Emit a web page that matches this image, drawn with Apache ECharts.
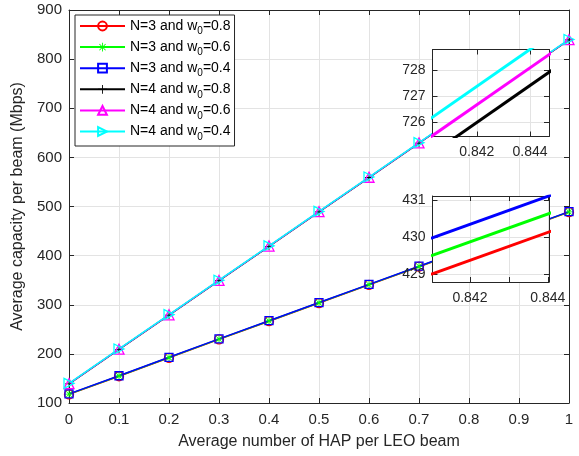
<!DOCTYPE html>
<html>
<head>
<meta charset="utf-8">
<script src="https://cdn.jsdelivr.net/npm/echarts@6/dist/echarts.min.js"></script>
<style>
  html, body { margin: 0; padding: 0; background: #fff; }
  #chart { width: 579px; height: 456px; }
</style>
</head>
<body>
<div id="chart"></div>
<script>
// main plot data
const xVals = [0, 0.1, 0.2, 0.3, 0.4, 0.5, 0.6, 0.7, 0.8, 0.9, 1];
const capN3w08 = [117.5, 154.5, 192, 229.5, 266.5, 303.5, 340.5, 377.5, 414.5, 451.5, 488.5];
const capN3w06 = [118, 155, 192.5, 230, 267, 304, 341, 378, 415, 452, 489];
const capN3w04 = [118.5, 155.5, 193, 230.5, 267.5, 304.5, 341.5, 378.5, 415.5, 452.5, 489.5];
const capN4w08 = [139, 209, 279, 349, 419, 489, 559, 629, 699, 769, 839];
const capN4w06 = [139.5, 209.5, 279.5, 349.5, 419.5, 489.5, 559.5, 629.5, 699.5, 769.5, 839.5];
const capN4w04 = [140, 210, 280, 350, 420, 490, 560, 630, 700, 770, 840];
const yTicks = [100, 200, 300, 400, 500, 600, 700, 800, 900];

// zoomed insets (upper: N=4, lower: N=3)
const upX = [0.840, 0.845];
const upN4w08 = [724.55, 728.12];
const upN4w06 = [725.23, 728.80];
const upN4w04 = [725.94, 729.51];
const upXTicks = [0.842, 0.844];
const upYTicks = [726, 727, 728];

const lowX = [0.841, 0.8445];
const lowN3w08 = [428.99, 430.32];
const lowN3w06 = [429.49, 430.82];
const lowN3w04 = [429.97, 431.30];
const lowXTicks = [0.842, 0.843, 0.844];
const lowXLabels = [0.842, 0.844];
const lowYTicks = [429, 430, 431];

const FONT = '"Liberation Sans", Arial, Helvetica, sans-serif';
const AX = '#262626';
const GRID = '#e3e3e3';

const asterisk = 'path://M-1,-10h2v20h-2z M-10,-1h20v2h-20z M-7.8,-6.4L-6.4,-7.8L7.8,6.4L6.4,7.8Z M6.4,-7.8L7.8,-6.4L-6.4,7.8L-7.8,6.4Z';
const plus = 'path://M-1,-10h2v20h-2z M-10,-1h20v2h-20z';

function pairs(xs, ys) {
  return xs.map((x, i) => [x, ys[i]]);
}

function mainSeries(name, color, ys, symbol, size, hollow, rotate) {
  return {
    name: name,
    type: 'line',
    xAxisIndex: 0,
    yAxisIndex: 0,
    data: pairs(xVals, ys),
    symbol: symbol,
    symbolSize: size,
    symbolRotate: rotate || 0,
    lineStyle: { color: color, width: 1.5 },
    itemStyle: hollow
      ? { color: 'rgba(0,0,0,0)', borderColor: color, borderWidth: 1.3 }
      : { color: color, borderWidth: 0 },
    z: 2,
    animation: false
  };
}

function insetSeries(name, color, xs, ys, idx) {
  return {
    name: name,
    type: 'line',
    xAxisIndex: idx,
    yAxisIndex: idx,
    data: pairs(xs, ys),
    symbol: 'none',
    lineStyle: { color: color, width: 3 },
    clip: true,
    z: 12,
    animation: false
  };
}

// bottom + top x axes, left + right y axes for one grid
function frame(gi, xmin, xmax, ymin, ymax, xTicks, xLabels, yTicks, fs, z, xInterval, yInterval) {
  const tick = { show: true, inside: true, length: 5, lineStyle: { color: AX } };
  const line = { show: true, onZero: false, lineStyle: { color: AX, width: 1 } };
  const xs = [], ys = [];
  ['bottom', 'top'].forEach((pos, k) => {
    const a = {
      type: 'value', gridIndex: gi, position: pos, min: xmin, max: xmax, z: z,
      axisLine: line,
      axisTick: Object.assign({}, tick),
      axisLabel: { show: k === 0, fontSize: fs, color: AX, fontFamily: FONT, margin: gi === 0 ? 9 : 9 },
      splitLine: { show: k === 0, lineStyle: { color: GRID, width: 1 } }
    };
    if (xInterval) { a.interval = xInterval; }
    else { a.axisTick.customValues = xTicks; a.axisLabel.customValues = xLabels; }
    a.axisLabel.formatter = v => gi === 0 ? String(+(+v).toFixed(1)) : (+v).toFixed(3);
    xs.push(a);
  });
  ['left', 'right'].forEach((pos, k) => {
    const a = {
      type: 'value', gridIndex: gi, position: pos, min: ymin, max: ymax, z: z,
      axisLine: line,
      axisTick: Object.assign({}, tick),
      axisLabel: { show: k === 0, fontSize: fs, color: AX, fontFamily: FONT, margin: gi === 0 ? 7 : 7 },
      splitLine: { show: k === 0, lineStyle: { color: GRID, width: 1 } }
    };
    if (yInterval) { a.interval = yInterval; }
    else { a.axisTick.customValues = yTicks; a.axisLabel.customValues = yTicks; }
    a.axisLabel.formatter = v => String(Math.round(v));
    ys.push(a);
  });
  return { xs: xs, ys: ys };
}

const fMain = frame(0, 0, 1, yTicks[0], yTicks[yTicks.length - 1], null, null, null, 15, 0, 0.1, 100);
fMain.xs[0].name = 'Average number of HAP per LEO beam';
fMain.xs[0].nameLocation = 'middle';
fMain.xs[0].nameGap = 31;
fMain.xs[0].nameTextStyle = { fontSize: 16, color: AX, fontFamily: FONT };
fMain.ys[0].name = 'Average capacity per beam (Mbps)';
fMain.ys[0].nameLocation = 'middle';
fMain.ys[0].nameGap = 42;
fMain.ys[0].nameTextStyle = { fontSize: 16, color: AX, fontFamily: FONT };

const fUp = frame(1, 0.84034, 0.84471, 725.44, 728.79, upXTicks, upXTicks, upYTicks, 14, 11);
const fLow = frame(2, 0.84104, 0.84403, 428.78, 431.12, lowXTicks, lowXLabels, lowYTicks, 14, 11);

const names = ['N=3 and w0=0.8', 'N=3 and w0=0.6', 'N=3 and w0=0.4',
               'N=4 and w0=0.8', 'N=4 and w0=0.6', 'N=4 and w0=0.4'];

const chart = echarts.init(document.getElementById('chart'), null, { renderer: 'canvas' });
chart.setOption({
  backgroundColor: '#fff',
  animation: false,
  grid: [
    { left: 69, right: 10, top: 10, bottom: 53, outerBoundsMode: 'none', containLabel: false },
    { left: 432.5, top: 49.5, width: 116.5, height: 87, show: true, backgroundColor: '#fff', borderWidth: 0, z: 10, outerBoundsMode: 'none' },
    { left: 432.5, top: 196, width: 116.5, height: 86, show: true, backgroundColor: '#fff', borderWidth: 0, z: 10, outerBoundsMode: 'none' }
  ],
  legend: {
    data: names,
    orient: 'vertical',
    left: 75,
    top: 15,
    padding: [4, 4, 4, 4],
    itemGap: 3.6,
    itemWidth: 45,
    itemHeight: 11,
    backgroundColor: '#fff',
    borderColor: AX,
    borderWidth: 1,
    borderRadius: 0,
    selectedMode: false,
    z: 20,
    formatter: n => {
      const parts = n.split('w0');
      return '{t|' + parts[0] + 'w}{sub|0}{t|' + parts[1] + '}';
    },
    textStyle: {
      color: '#000',
      fontFamily: FONT,
      padding: [0, 0, 0, 0],
      rich: {
        t: { fontSize: 14, fontFamily: FONT, color: '#000', lineHeight: 21, verticalAlign: 'middle' },
        sub: { fontSize: 10, fontFamily: FONT, color: '#000', lineHeight: 21, verticalAlign: 'bottom' }
      }
    }
  },
  xAxis: fMain.xs.concat(fUp.xs, fLow.xs),
  yAxis: fMain.ys.concat(fUp.ys, fLow.ys),
  series: [
    mainSeries(names[0], '#ff0000', capN3w08, 'circle', 9, true),
    mainSeries(names[1], '#00ff00', capN3w06, asterisk, 8, false),
    mainSeries(names[2], '#0000ff', capN3w04, 'rect', 8, true),
    mainSeries(names[3], '#000000', capN4w08, plus, 8, false),
    mainSeries(names[4], '#ff00ff', capN4w06, 'triangle', 10, true),
    mainSeries(names[5], '#00ffff', capN4w04, 'triangle', 10, true, -90),
    // upper inset (x index 2,3 / y index 2,3 -> use 2)
    insetSeries('up-w08', '#000000', upX, upN4w08, 2),
    insetSeries('up-w06', '#ff00ff', upX, upN4w06, 2),
    insetSeries('up-w04', '#00ffff', upX, upN4w04, 2),
    // lower inset
    insetSeries('low-w08', '#ff0000', lowX, lowN3w08, 4),
    insetSeries('low-w06', '#00ff00', lowX, lowN3w06, 4),
    insetSeries('low-w04', '#0000ff', lowX, lowN3w04, 4)
  ]
});
</script>
</body>
</html>
